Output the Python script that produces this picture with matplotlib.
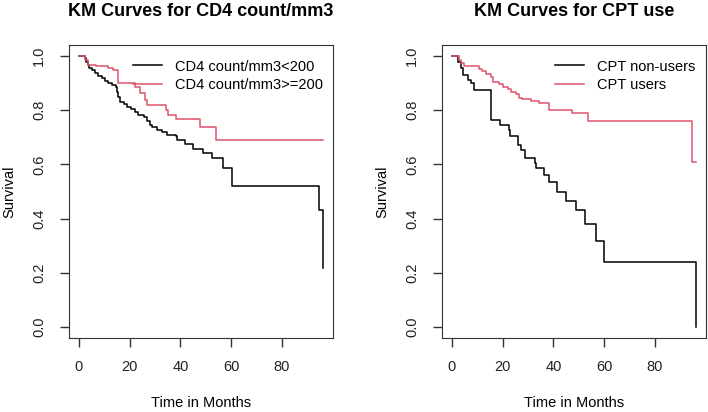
import numpy as np
import matplotlib
matplotlib.use("Agg")
import matplotlib.pyplot as plt

plt.rcParams['font.family'] = ['Liberation Sans', 'DejaVu Sans']

# KM estimates (time in months, survival)
cd4_low_t = [0, 2.4, 2.9, 3.5, 4.1, 5.1, 6.4, 7.7, 9.2, 10.3, 11.6, 12.9, 14.5, 15.1, 15.5,
             16.1, 17.8, 19.1, 20.4, 22.1, 23.4, 25.6, 26.9, 28.2, 28.9, 30.9, 32.8, 34.8,
             38.1, 38.7, 42.0, 45.0, 49.0, 52.3, 56.9, 60.2, 94.7, 96.3]
cd4_low_s = [1.0, 0.991, 0.979, 0.967, 0.955, 0.946, 0.936, 0.926, 0.918, 0.909, 0.899, 0.893,
             0.884, 0.868, 0.850, 0.831, 0.823, 0.811, 0.803, 0.794, 0.782, 0.776, 0.761,
             0.745, 0.737, 0.727, 0.721, 0.708, 0.705, 0.690, 0.674, 0.657, 0.641, 0.622,
             0.586, 0.520, 0.432, 0.217]

cd4_high_t = [0, 2.4, 3.5, 6.6, 11.6, 13.5, 15.5, 22.3, 24.2, 26.2, 26.9, 34.2, 35.3, 38.3,
              47.7, 54.0, 96.3]
cd4_high_s = [1.0, 0.985, 0.967, 0.961, 0.955, 0.946, 0.899, 0.884, 0.862, 0.838, 0.819,
              0.801, 0.782, 0.768, 0.737, 0.690, 0.690]

cpt_non_t = [0, 2.6, 3.5, 4.2, 6.2, 7.5, 8.8, 15.4, 19.1, 22.4, 23.0, 26.2, 27.2, 28.8, 32.8,
             33.2, 36.4, 38.3, 41.6, 44.9, 48.8, 52.3, 56.7, 60.0, 96.4]
cpt_non_s = [1.0, 0.979, 0.955, 0.930, 0.911, 0.899, 0.875, 0.762, 0.745, 0.727, 0.705, 0.672,
             0.653, 0.622, 0.604, 0.586, 0.561, 0.536, 0.499, 0.465, 0.430, 0.380, 0.318,
             0.239, 0.0]

cpt_user_t = [0, 2.9, 3.5, 4.8, 7.5, 10.8, 11.8, 13.4, 15.4, 16.1, 18.7, 20.0, 22.0, 23.3,
              25.3, 26.5, 27.6, 31.1, 34.4, 38.3, 47.5, 53.8, 94.6, 96.4]
cpt_user_s = [1.0, 0.983, 0.973, 0.963, 0.961, 0.951, 0.943, 0.934, 0.921, 0.903, 0.895, 0.887,
              0.877, 0.868, 0.859, 0.846, 0.840, 0.834, 0.825, 0.801, 0.789, 0.760, 0.610,
              0.610]

red = '#DF536B'

fig = plt.figure(figsize=(7.08, 4.12), dpi=100)
ax1 = fig.add_axes([0.0975, 0.1796, 0.3729, 0.7112])
ax2 = fig.add_axes([0.6243, 0.1796, 0.3729, 0.7112])


def km_panel(ax, t1, s1, t2, s2, labels, title):
    ax.step(t1, s1, where='post', color='black', lw=1.1, label=labels[0])
    ax.step(t2, s2, where='post', color=red, lw=1.1, label=labels[1])
    ax.set_xlim(-3.9, 100.2)
    ax.set_ylim(-0.04, 1.04)
    ax.set_xticks([0, 20, 40, 60, 80])
    ax.set_yticks([0.0, 0.2, 0.4, 0.6, 0.8, 1.0])
    ax.set_yticklabels(['0.0', '0.2', '0.4', '0.6', '0.8', '1.0'], rotation=90, va='center')
    ax.tick_params(length=6.5, width=1, labelsize=10.5, color='#333333', labelcolor='#222222')
    ax.tick_params(axis='x', pad=9.5)
    ax.tick_params(axis='y', pad=10)
    for sp in ax.spines.values():
        sp.set_color('#333333')
    ax.set_title(title, fontweight='bold', fontsize=13, pad=21)
    ax.set_xlabel('Time in Months', fontsize=10.5, labelpad=15.5)
    ax.set_ylabel('Survival', fontsize=10.5, labelpad=11)
    ax.legend(loc='upper right', bbox_to_anchor=(1.0, 0.985), frameon=False, fontsize=10.5,
              handlelength=2.0, handletextpad=0.9, borderaxespad=0.3, labelspacing=0.3)


km_panel(ax1, cd4_low_t, cd4_low_s, cd4_high_t, cd4_high_s,
         ['CD4 count/mm3<200', 'CD4 count/mm3>=200'], 'KM Curves for CD4 count/mm3')
km_panel(ax2, cpt_non_t, cpt_non_s, cpt_user_t, cpt_user_s,
         ['CPT non-users', 'CPT users'], 'KM Curves for CPT use')

fig.savefig('out.png', dpi=100)
